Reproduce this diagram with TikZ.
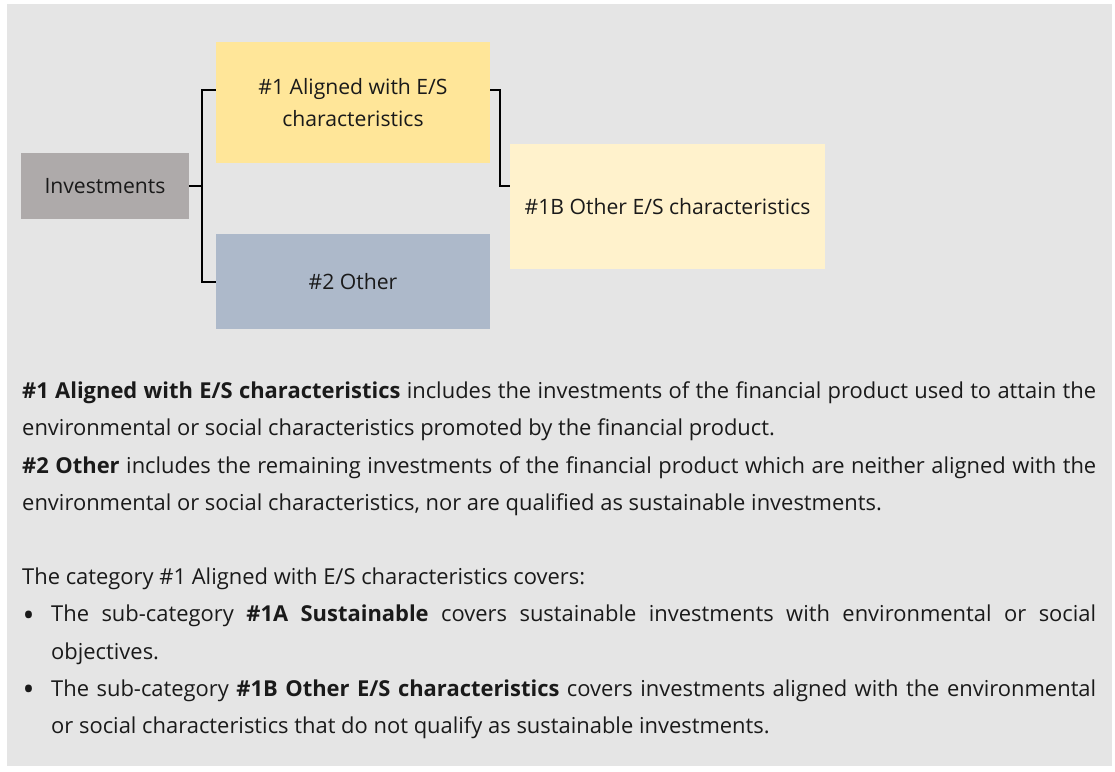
\documentclass[tikz,border=0pt]{standalone}
\usepackage{fontspec}
\usepackage{graphicx}
\setmainfont{Open Sans}
\newlength\reflen
\definecolor{bgc}{HTML}{E5E5E5}
\definecolor{textc}{HTML}{1A1A1A}
\definecolor{goldc}{HTML}{FFE699}
\definecolor{paleg}{HTML}{FFF2CC}
\definecolor{bluegc}{HTML}{ADB9CA}
\definecolor{greyc}{HTML}{AEAAAA}
\newcommand\mybullet{\makebox[29pt][l]{\hspace{0.5pt}\raisebox{-0.2em}{\scalebox{1.45}{•}}}}
\begin{document}
\settowidth\reflen{\fontsize{10}{12}\selectfont The category \#1 Aligned with E/S characteristics covers:}%
\pgfmathsetmacro\bodyfs{10*563/\reflen}%
\settowidth\reflen{\fontsize{10}{12}\selectfont Investments}%
\pgfmathsetmacro\boxfs{10*121/\reflen}%
\begin{tikzpicture}[x=1pt,y=-1pt]
\tikzset{
  box/.style={draw=none, inner sep=0pt, align=center, text=textc,
    font=\fontsize{\boxfs}{32}\selectfont},
  conn/.style={draw=black, line width=1.3pt},
}
\useasboundingbox (0,0) rectangle (1115,771);
\fill[bgc] (7,4) rectangle (1112,766);
% boxes
\node[box, fill=greyc, minimum width=168pt, minimum height=66pt] (inv) at (105,186) {Investments};
\node[box, fill=goldc, minimum width=274pt, minimum height=121pt] (a1) at (353,102.5) {\#1 Aligned with E/S\\characteristics};
\node[box, fill=bluegc, minimum width=274pt, minimum height=95pt] (a2) at (353,281.5) {\#2 Other};
\node[box, fill=paleg, minimum width=315pt, minimum height=125pt] (b1) at (667.5,206.5) {\#1B Other E/S characteristics};
% connectors
\coordinate (j1) at (202,90);
\coordinate (j2) at (202,282);
\coordinate (k1) at (500,90);
\draw[conn] (a1.west |- j1) -- (j1) -- (j2) -- (a2.west |- j2);
\draw[conn] (inv.east) -- (inv.east -| j1);
\draw[conn] (a1.east |- k1) -- (k1) |- (b1.west |- inv.east);
% body text
\node[anchor=north west, inner sep=0pt, text width=1074pt, align=justify, text=textc,
  font=\fontsize{\bodyfs}{37.2}\selectfont] (body) at (22,372.5) {%
\setlength\parindent{0pt}\setlength\parskip{0pt}%
\strut\textbf{\#1 Aligned with E/S characteristics} includes the investments of the financial product used to attain the\linebreak
environmental or social characteristics promoted by the financial product.\par
\textbf{\#2 Other} includes the remaining investments of the financial product which are neither aligned with the\linebreak
environmental or social characteristics, nor are qualified as sustainable investments.\par
\strut\par
The category \#1 Aligned with E/S characteristics covers:\par
\hangindent=29pt\hangafter=1\mybullet The sub-category \textbf{\#1A Sustainable} covers sustainable investments with environmental or social\linebreak
objectives.\par
\hangindent=29pt\hangafter=1\mybullet The sub-category \textbf{\#1B Other E/S characteristics} covers investments aligned with the environmental\linebreak
or social characteristics that do not qualify as sustainable investments.\par
};
\end{tikzpicture}
\end{document}
